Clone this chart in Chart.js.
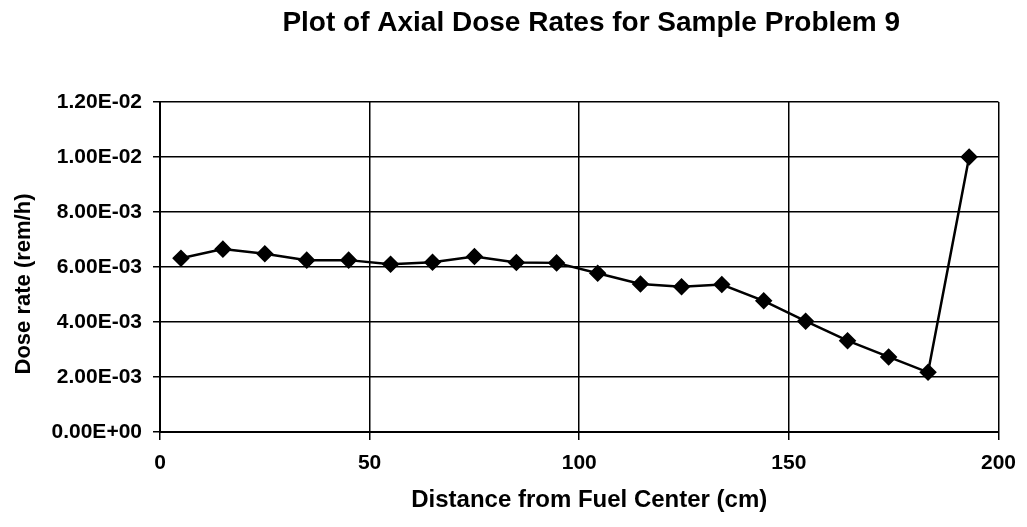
<!DOCTYPE html>
<html>
<head>
<meta charset="utf-8">
<title>Axial Dose Rates</title>
<script src="https://cdn.jsdelivr.net/npm/chart.js@4.4.1/dist/chart.umd.min.js"></script>
<style>
  html, body { margin: 0; padding: 0; background: #fff; }
  #wrap { width: 1027px; height: 527px; }
</style>
</head>
<body>
<div id="wrap"><canvas id="grafico"></canvas></div>
<script>
// distance from fuel centre (cm) and dose rate (rem/h)
const distancias = [5, 15, 25, 35, 45, 55, 65, 75, 85, 94.6, 104.4, 114.6, 124.4, 134, 144, 154, 164, 173.8, 183.2, 193];
const doses = [6.32e-3, 6.65e-3, 6.48e-3, 6.25e-3, 6.25e-3, 6.1e-3, 6.17e-3, 6.38e-3, 6.16e-3, 6.15e-3,
               5.77e-3, 5.38e-3, 5.28e-3, 5.36e-3, 4.77e-3, 4.03e-3, 3.32e-3, 2.73e-3, 2.17e-3, 1.0e-2];
const ticksX = [0, 50, 100, 150, 200];
const ticksY = [0, 0.002, 0.004, 0.006, 0.008, 0.010, 0.012];

const tituloGrafico = "Plot of Axial Dose Rates for Sample Problem 9";
const tituloX = "Distance from Fuel Center (cm)";
const tituloY = "Dose rate (rem/h)";

const fonte = "'Liberation Sans', Arial, Helvetica, sans-serif";

// excel-style scientific label: 6.00E-03
function formatoExp(v) {
    if (Math.abs(v) < 1e-12) return "0.00E+00";
    let [m, e] = v.toExponential(2).split("e");
    let n = parseInt(e, 10);
    let sinal = n < 0 ? "-" : "+";
    return m + "E" + sinal + String(Math.abs(n)).padStart(2, "0");
}

// titles are placed a bit right of the plot centre, like the old spreadsheet layout
const titulos = {
    id: "titulos",
    afterDraw(chart) {
        let ctx = chart.ctx;
        let area = chart.chartArea;
        let meioX = (area.left + area.right) / 2;
        let meioY = (area.top + area.bottom) / 2;
        ctx.save();
        ctx.fillStyle = "#000";
        ctx.textAlign = "center";
        ctx.textBaseline = "alphabetic";

        ctx.font = "bold 28px " + fonte;
        ctx.fillText(tituloGrafico, meioX + 12, area.top - 71);

        ctx.font = "bold 24px " + fonte;
        ctx.fillText(tituloX, meioX + 10, area.bottom + 75);

        ctx.translate(area.left - 130, meioY + 17);
        ctx.rotate(-Math.PI / 2);
        ctx.font = "bold 22px " + fonte;
        ctx.fillText(tituloY, 0, 0);
        ctx.restore();
    }
};

let pontos = distancias.map((x, i) => ({ x: x, y: doses[i] }));

new Chart(document.getElementById("grafico"), {
    type: "line",
    data: {
        datasets: [{
            data: pontos,
            borderColor: "#000",
            backgroundColor: "#000",
            borderWidth: 2.5,
            pointStyle: "rectRot",
            pointRadius: 7,
            pointHoverRadius: 7,
            tension: 0
        }]
    },
    options: {
        responsive: true,
        maintainAspectRatio: false,
        animation: false,
        layout: { padding: { left: 0, right: 27, top: 102, bottom: 0 } },
        plugins: {
            legend: { display: false },
            tooltip: { enabled: false },
            title: { display: false }
        },
        scales: {
            x: {
                type: "linear",
                min: 0,
                max: 200,
                afterBuildTicks: s => { s.ticks = ticksX.map(v => ({ value: v })); },
                afterFit: s => { s.height = 95; },
                grid: { color: "#000", lineWidth: 1.5, tickLength: 8 },
                border: { color: "#000", width: 2 },
                ticks: { color: "#000", padding: 11, font: { family: fonte, size: 21, weight: "bold" } }
            },
            y: {
                min: 0,
                max: 0.012,
                afterBuildTicks: s => { s.ticks = ticksY.map(v => ({ value: v })); },
                afterFit: s => { s.width = 160; },
                grid: { color: "#000", lineWidth: 1.5, tickLength: 7 },
                border: { color: "#000", width: 2 },
                ticks: {
                    color: "#000",
                    padding: 11,
                    font: { family: fonte, size: 21, weight: "bold" },
                    callback: v => formatoExp(v)
                }
            }
        }
    },
    plugins: [titulos]
});
</script>
</body>
</html>
